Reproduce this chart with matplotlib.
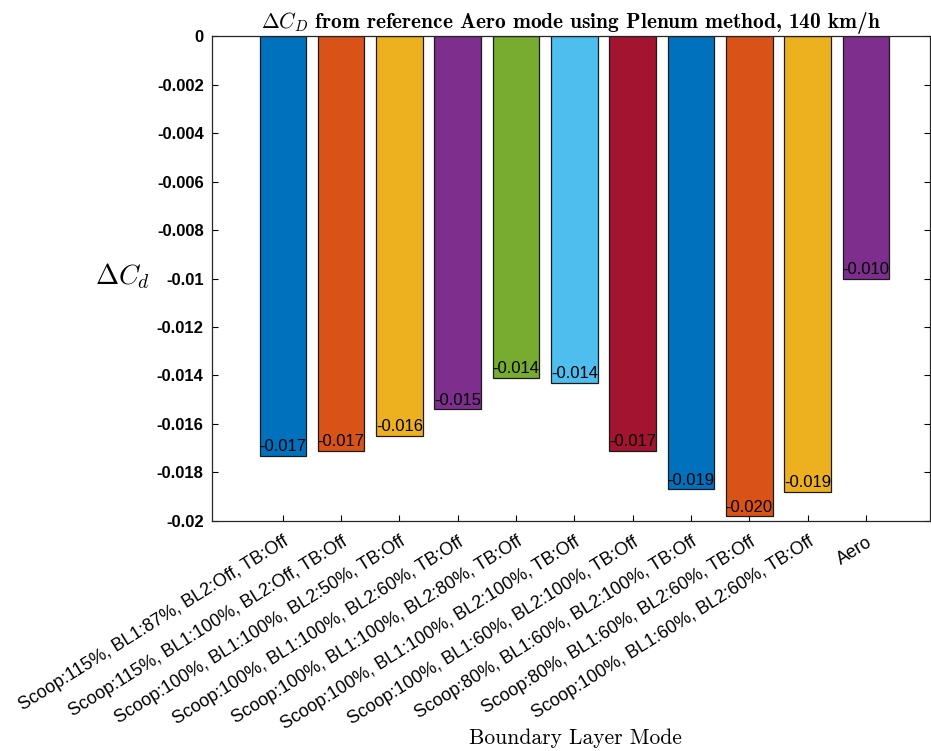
import matplotlib
matplotlib.use("Agg")
import matplotlib.pyplot as plt
import numpy as np

# Boundary layer configurations and their drag change relative to Aero mode
modes = [
    "Scoop:115%, BL1:87%, BL2:Off, TB:Off",
    "Scoop:115%, BL1:100%, BL2:Off, TB:Off",
    "Scoop:100%, BL1:100%, BL2:50%, TB:Off",
    "Scoop:100%, BL1:100%, BL2:60%, TB:Off",
    "Scoop:100%, BL1:100%, BL2:80%, TB:Off",
    "Scoop:100%, BL1:100%, BL2:100%, TB:Off",
    "Scoop:100%, BL1:60%, BL2:100%, TB:Off",
    "Scoop:80%, BL1:60%, BL2:100%, TB:Off",
    "Scoop:80%, BL1:60%, BL2:60%, TB:Off",
    "Scoop:100%, BL1:60%, BL2:60%, TB:Off",
    "Aero",
]
delta_cd = [-0.0173, -0.0171, -0.01649, -0.0154, -0.0141, -0.0143,
            -0.0171, -0.0187, -0.0198, -0.0188, -0.0100]
y_ticks = [0, -0.002, -0.004, -0.006, -0.008, -0.01, -0.012, -0.014,
           -0.016, -0.018, -0.02]
y_tick_labels = ["0", "-0.002", "-0.004", "-0.006", "-0.008", "-0.01",
                 "-0.012", "-0.014", "-0.016", "-0.018", "-0.02"]

palette = ["#0072BD", "#D95319", "#EDB120", "#7E2F8E", "#77AC30",
           "#4DBEEE", "#A2142F"]

plt.rcParams["mathtext.fontset"] = "cm"
sans = ["Liberation Sans", "DejaVu Sans"]

fig = plt.figure(figsize=(9.31, 7.51), dpi=100)
ax = fig.add_axes([0.2277, 0.3063, 0.7712, 0.6457])

x = np.arange(1, len(modes) + 1)
colors = [palette[i % len(palette)] for i in range(len(modes))]
ax.bar(x, delta_cd, width=0.8, color=colors, edgecolor="#1a1a1a",
       linewidth=0.9, zorder=2)

for xi, v in zip(x, delta_cd):
    ax.text(xi, v + 0.00006, f"{v:.3f}", ha="center", va="bottom",
            fontsize=12, family=sans, color="black", zorder=3)

ax.set_xlim(-0.216, 12.1)
ax.set_ylim(-0.02, 0)
ax.set_yticks(y_ticks)
ax.set_yticklabels(y_tick_labels, family=sans, fontsize=12,
                   fontweight="bold")
ax.set_xticks(x)
ax.set_xticklabels(modes, rotation=32, ha="right", rotation_mode="anchor",
                   family=sans, fontsize=13)

ax.tick_params(axis="y", direction="in", right=True, length=4, width=0.8,
               pad=6)
ax.tick_params(axis="x", direction="in", top=True, length=4, width=0.8,
               pad=9)
for s in ax.spines.values():
    s.set_linewidth(0.9)
    s.set_color("#262626")

ax.set_title(r"$\Delta C_D$ from reference Aero mode using Plenum method, 140 km/h",
             family="cmb10", fontsize=15.4, pad=6)
ax.set_ylabel(r"$\Delta C_d$", fontsize=20, rotation=0, va="center")
ax.yaxis.set_label_coords(-0.125, 0.505)
fig.text(0.618, 0.004, "Boundary Layer Mode", family="cmr10",
         fontsize=15.5, ha="center", va="bottom")

fig.savefig("out.png", dpi=100)
